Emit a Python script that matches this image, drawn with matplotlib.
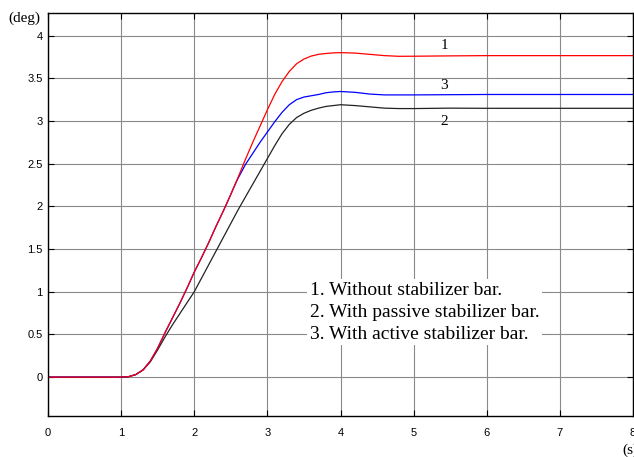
import numpy as np
import matplotlib
matplotlib.use("Agg")
import matplotlib.pyplot as plt

# values (time in s, angle in deg)
t_red = [0, 1.0, 1.1, 1.2, 1.3, 1.4, 1.5, 1.6, 1.7, 1.8, 1.9, 2.0, 2.1, 2.2, 2.3, 2.4,
         2.5, 2.6, 2.7, 2.8, 2.9, 3.0, 3.1, 3.2, 3.3, 3.4, 3.5, 3.6, 3.7, 3.8, 3.9,
         4.0, 4.2, 4.4, 4.6, 4.8, 5.0, 5.5, 6.0, 8.0]
y_red = [0, 0, 0.005, 0.03, 0.085, 0.19, 0.34, 0.52, 0.69, 0.86, 1.04, 1.23, 1.40, 1.58,
         1.77, 1.95, 2.14, 2.34, 2.55, 2.75, 2.94, 3.13, 3.31, 3.46, 3.58, 3.67, 3.725,
         3.76, 3.78, 3.79, 3.797, 3.80, 3.795, 3.78, 3.765, 3.757, 3.758, 3.762, 3.765, 3.765]

t_blue = [0, 1.0, 1.1, 1.2, 1.3, 1.4, 1.5, 1.6, 1.7, 1.8, 1.9, 2.0, 2.1, 2.2, 2.3, 2.4,
          2.5, 2.55, 2.6, 2.7, 2.8, 2.9, 3.0, 3.1, 3.2, 3.3, 3.4, 3.5, 3.6, 3.7, 3.8,
          3.9, 4.0, 4.2, 4.4, 4.6, 5.0, 6.0, 8.0]
y_blue = [0, 0, 0.005, 0.03, 0.085, 0.19, 0.34, 0.52, 0.69, 0.86, 1.04, 1.23, 1.40, 1.58,
          1.77, 1.95, 2.14, 2.24, 2.33, 2.49, 2.62, 2.75, 2.87, 2.99, 3.10, 3.19, 3.25,
          3.28, 3.295, 3.31, 3.33, 3.34, 3.345, 3.335, 3.315, 3.305, 3.305, 3.31, 3.31]

t_black = [0, 1.0, 1.1, 1.2, 1.3, 1.4, 1.5, 1.6, 1.7, 1.8, 1.9, 2.0, 2.1, 2.2, 2.3, 2.4,
           2.5, 2.6, 2.7, 2.8, 2.9, 3.0, 3.1, 3.2, 3.3, 3.4, 3.5, 3.6, 3.7, 3.8, 4.0,
           4.2, 4.4, 4.6, 4.8, 5.0, 5.5, 6.0, 8.0]
y_black = [0, 0, 0.005, 0.03, 0.085, 0.18, 0.32, 0.47, 0.61, 0.74, 0.87, 1.0, 1.16, 1.32,
           1.48, 1.64, 1.80, 1.96, 2.11, 2.26, 2.41, 2.56, 2.71, 2.85, 2.96, 3.04, 3.09,
           3.125, 3.15, 3.17, 3.19, 3.18, 3.165, 3.15, 3.145, 3.145, 3.15, 3.148, 3.148]

x_ticks = [0, 1, 2, 3, 4, 5, 6, 7, 8]
y_ticks = [0, 0.5, 1, 1.5, 2, 2.5, 3, 3.5, 4]
y_tick_labels = ["0", "0.5", "1", "1.5", "2", "2.5", "3", "3.5", "4"]

legend_lines = ["1. Without stabilizer bar.",
                "2. With passive stabilizer bar.",
                "3. With active stabilizer bar."]

serif = ["Liberation Serif", "DejaVu Serif"]

fig = plt.figure(figsize=(6.34, 4.57), dpi=100)
ax = fig.add_axes([48 / 634, 1 - 416 / 457, 585 / 634, 403.5 / 457])

ax.plot(t_black, y_black, color="#222222", lw=0.9)
ax.plot(t_blue, y_blue, color="#0000ff", lw=0.9)
ax.plot(t_red, y_red, color="#ff0000", lw=0.9)

ax.set_xlim(0, 8)
ax.set_ylim(-0.455, 4.27)
ax.set_xticks(x_ticks)
ax.set_xticklabels([str(v) for v in x_ticks])
ax.set_yticks(y_ticks)
ax.set_yticklabels(y_tick_labels)
ax.grid(True, color="#8a8a8a", lw=0.8)
ax.set_axisbelow(True)

for sp in ax.spines.values():
    sp.set_linewidth(1.0)
    sp.set_color("black")

ax.tick_params(direction="in", top=True, right=True, length=4, width=0.8, labelsize=8)
ax.tick_params(axis="x", pad=9)
ax.tick_params(axis="y", pad=4)
for lab in ax.get_xticklabels() + ax.get_yticklabels():
    lab.set_fontfamily("Liberation Sans")

# curve numbers
ax.text(5.42, 3.88, "1", family=serif, fontsize=11, ha="center", va="center")
ax.text(5.42, 3.415, "3", family=serif, fontsize=11, ha="center", va="center")
ax.text(5.42, 2.99, "2", family=serif, fontsize=11, ha="center", va="center")

# legend as text block on a white box
ax.text(3.58, 0.76, "\n".join(legend_lines), family=serif, fontsize=14,
        ha="left", va="center", linespacing=1.37,
        bbox=dict(facecolor="white", edgecolor="none", pad=2))

fig.text(8 / 634, 1 - 18 / 457, "(deg)", family=serif, fontsize=11, va="center")
fig.text(622 / 634, 1 - 450 / 457, "(s)", family=serif, fontsize=11, va="center")

fig.savefig("out.png", dpi=100)
